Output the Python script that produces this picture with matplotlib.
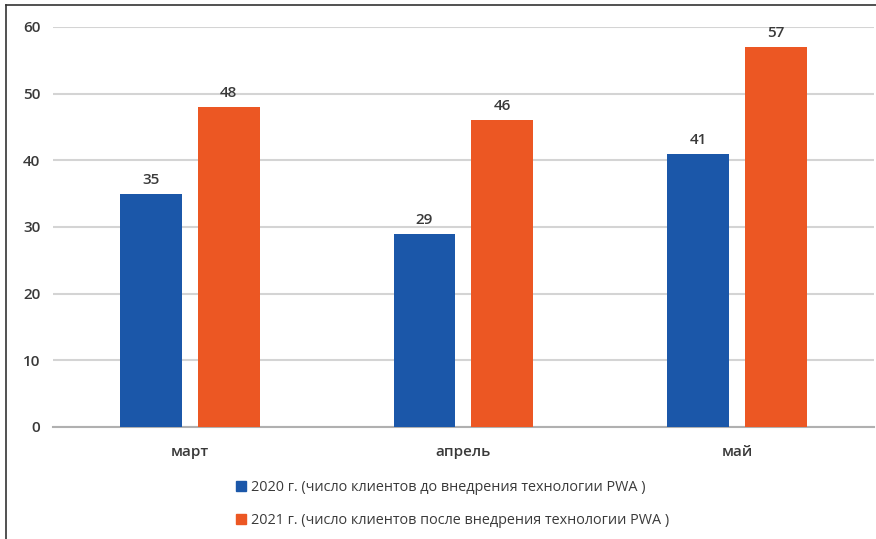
import matplotlib
matplotlib.use("Agg")
import matplotlib.pyplot as plt
from matplotlib.patches import Patch
from matplotlib.lines import Line2D
import numpy as np

months = ["март", "апрель", "май"]
clients_2020 = [35, 29, 41]
clients_2021 = [48, 46, 57]
label_2020 = "2020 г. (число клиентов до внедрения технологии PWA )"
label_2021 = "2021 г. (число клиентов после внедрения технологии PWA )"
yticks = [0, 10, 20, 30, 40, 50, 60]

BLUE = "#1b57a9"
ORANGE = "#ec5723"
TEXT = "#3a3a3a"

plt.rcParams["font.family"] = ["Open Sans", "DejaVu Sans"]

fig = plt.figure(figsize=(8.76, 5.39), dpi=100)
ax = fig.add_axes([0.0605, 0.208, 0.937, 0.742])

x = np.arange(len(months))
w = 0.226
off = 0.142
b1 = ax.bar(x - off, clients_2020, w, color=BLUE, zorder=3)
b2 = ax.bar(x + off, clients_2021, w, color=ORANGE, zorder=3)

for bars in (b1, b2):
    for rect in bars:
        ax.annotate(f"{rect.get_height():.0f}",
                    (rect.get_x() + rect.get_width() / 2, rect.get_height()),
                    xytext=(0, 5), textcoords="offset points",
                    ha="center", va="bottom", fontsize=11, fontweight="semibold",
                    color=TEXT)

ax.set_xlim(-0.5, 2.5)
ax.set_ylim(0, 60)
ax.set_yticks(yticks)
ax.set_xticks(x)
ax.set_xticklabels(months)
ax.grid(axis="y", color="#d4d4d4", linewidth=1.5, zorder=0)
ax.tick_params(length=0, labelsize=11, colors=TEXT)
ax.tick_params(axis="x", pad=13)
ax.tick_params(axis="y", pad=9)
for lbl in ax.get_yticklabels() + ax.get_xticklabels():
    lbl.set_fontweight("semibold")
for s in ["top", "right", "left"]:
    ax.spines[s].set_visible(False)
ax.spines["bottom"].set_color("#b0b0b0")
ax.spines["bottom"].set_linewidth(1.5)

handles = [Patch(color=BLUE), Patch(color=ORANGE)]
fig.legend(handles, [label_2020, label_2021], loc="upper left",
           bbox_to_anchor=(0.255, 0.133), frameon=False, fontsize=10.4,
           handlelength=0.65, handleheight=0.65, handletextpad=0.35,
           labelspacing=1.25, labelcolor=TEXT)

# frame lines on the left and top edges
fig.add_artist(Line2D([0.007, 0.007], [0, 0.99], transform=fig.transFigure,
                      color="#333333", linewidth=1.2))
fig.add_artist(Line2D([0.007, 1.0], [0.99, 0.99], transform=fig.transFigure,
                      color="#333333", linewidth=1.2))

fig.savefig("out.png", dpi=100)
